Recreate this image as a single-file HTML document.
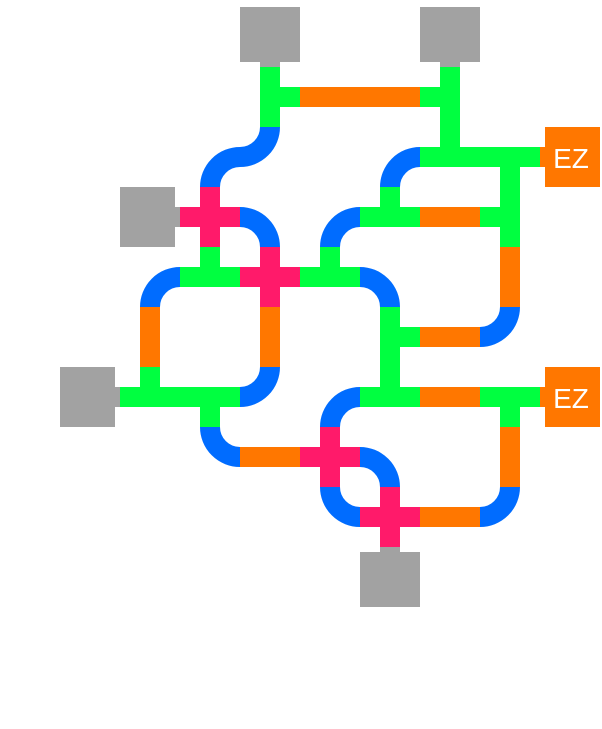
<!DOCTYPE html>
<html><head><meta charset="utf-8"><style>
html,body{margin:0;padding:0;background:#fff;}
svg{display:block;}
</style></head><body>
<svg id="s" width="602" height="729" viewBox="0 0 602 729" xmlns="http://www.w3.org/2000/svg">
<g id="g"></g>
<rect x="545" y="127" width="55" height="60" fill="#ff7700"/>
<rect x="540" y="147" width="6" height="20" fill="#ff7700"/>
<rect x="545" y="367" width="55" height="60" fill="#ff7700"/>
<rect x="540" y="387" width="6" height="20" fill="#ff7700"/>
<text x="571" y="168" fill="#fff" font-family="Liberation Sans, sans-serif" font-size="28" text-anchor="middle">EZ</text>
<text x="571" y="408" fill="#fff" font-family="Liberation Sans, sans-serif" font-size="28" text-anchor="middle">EZ</text>
</svg>
<script>
var G='#00ff40',O='#ff7700',B='#006cff',P='#ff1a6a',Y='#a2a2a2';
var g=document.getElementById('g'),out='';
function C(i,j){return [30+60*i,37+60*j];}
var D={U:[0,-30],D:[0,30],L:[-30,0],R:[30,0]};
function segs(i,j,dirs,col){var c=C(i,j);dirs.split('').forEach(function(d){var o=D[d];
out+='<line x1="'+c[0]+'" y1="'+c[1]+'" x2="'+(c[0]+o[0])+'" y2="'+(c[1]+o[1])+'" stroke="'+col+'" stroke-width="20" stroke-linecap="butt"/>';});
if(dirs.length>1){out+='<rect x="'+(c[0]-10)+'" y="'+(c[1]-10)+'" width="20" height="20" fill="'+col+'"/>';}}
function arc(i,j,dirs){var c=C(i,j),a=D[dirs[0]],b=D[dirs[1]];
var cx=c[0]+a[0]+b[0],cy=c[1]+a[1]+b[1];
var p1=[c[0]+a[0],c[1]+a[1]],p2=[c[0]+b[0],c[1]+b[1]];
var a1=Math.atan2(p1[1]-cy,p1[0]-cx),a2=Math.atan2(p2[1]-cy,p2[0]-cx);
var d=a2-a1;while(d>Math.PI)d-=2*Math.PI;while(d<-Math.PI)d+=2*Math.PI;
var sw=d>0?1:0;
out+='<path d="M'+p1[0]+' '+p1[1]+' A30 30 0 0 '+sw+' '+p2[0]+' '+p2[1]+'" fill="none" stroke="'+B+'" stroke-width="20"/>';}
function rect(x,y,w,h,c){out+='<rect x="'+x+'" y="'+y+'" width="'+w+'" height="'+h+'" fill="'+c+'"/>';}
// grey boxes + stubs
rect(240,7,60,55,Y);rect(260,61,20,7,Y);
rect(420,7,60,55,Y);rect(440,61,20,7,Y);
rect(120,187,55,60,Y);rect(174,207,7,20,Y);
rect(60,367,55,60,Y);rect(114,387,7,20,Y);
rect(360,552,60,55,Y);rect(380,546,20,7,Y);
// row1
segs(4,1,'URD',G);segs(5,1,'LR',O);segs(6,1,'LR',O);segs(7,1,'LUD',G);
// row2
arc(4,2,'UL');arc(3,2,'RD');arc(6,2,'RD');segs(7,2,'ULR',G);segs(8,2,'LRD',G);
// row3
segs(3,3,'ULRD',P);arc(4,3,'LD');arc(5,3,'RD');segs(6,3,'LUR',G);segs(7,3,'LR',O);segs(8,3,'LUD',G);
// row4
arc(2,4,'RD');segs(3,4,'ULR',G);segs(4,4,'ULRD',P);segs(5,4,'ULR',G);arc(6,4,'LD');segs(8,4,'UD',O);
// row5
segs(2,5,'UD',O);segs(4,5,'UD',O);segs(6,5,'UDR',G);segs(7,5,'LR',O);arc(8,5,'UL');
// row6
segs(2,6,'LRU',G);segs(3,6,'LRD',G);arc(4,6,'UL');arc(5,6,'RD');segs(6,6,'ULR',G);segs(7,6,'LR',O);segs(8,6,'LRD',G);
// row7
arc(3,7,'UR');segs(4,7,'LR',O);segs(5,7,'ULRD',P);arc(6,7,'LD');segs(8,7,'UD',O);
// row8
arc(5,8,'UR');segs(6,8,'ULRD',P);segs(7,8,'LR',O);arc(8,8,'UL');
g.innerHTML=out;
</script>
</body></html>
